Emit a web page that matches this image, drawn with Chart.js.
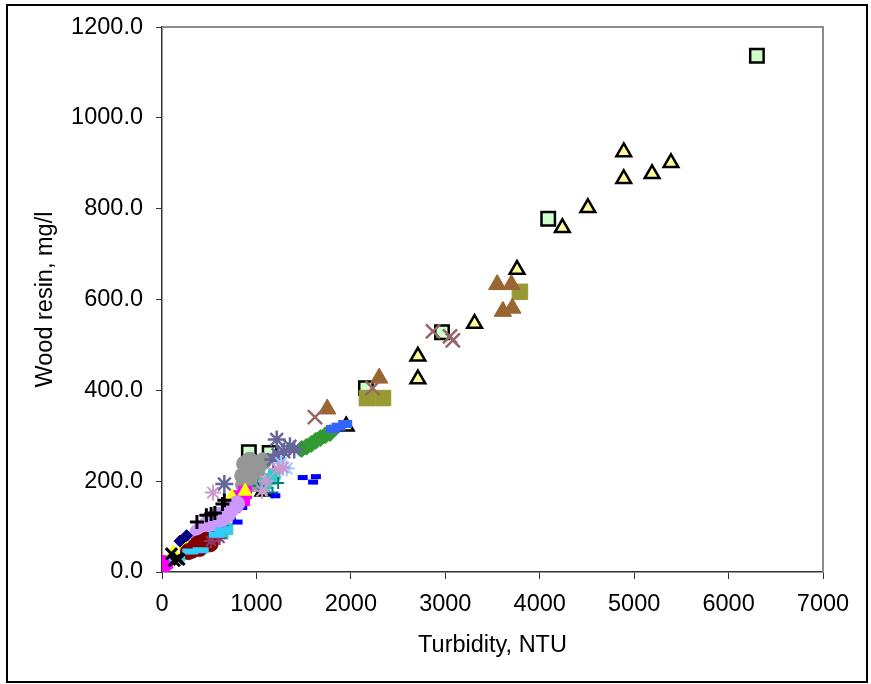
<!DOCTYPE html>
<html>
<head>
<meta charset="utf-8">
<script src="https://cdn.jsdelivr.net/npm/chart.js@4"></script>
<style>
  html, body { margin: 0; padding: 0; background: #fff; }
  canvas { display: block; }
</style>
</head>
<body>
<canvas id="chart" width="871" height="684"></canvas>
<script>
// axis ticks
const xTicks = [0, 1000, 2000, 3000, 4000, 5000, 6000, 7000];
const yTicks = [0, 200, 400, 600, 800, 1000, 1200];

// series values, [turbidity NTU, wood resin mg/l]
const paleGreenSquares = [[6300,1137],[4090,778],[2965,528],[2160,405],[920,264],[1140,262],[330,70]];
const paleYellowTriangles = [[4890,925],[5390,901],[5190,877],[4890,866],[4510,802],[4240,758],[3760,666],[3310,547],[2710,475],[2710,425],[1950,321],[1070,178],[830,160]];
const oliveSquares = [[3790,617],[2170,383],[2340,383]];
const brownTriangles = [[3550,633],[3700,633],[3610,574],[3710,581],[2300,427],[1750,359]];
const roseCrosses = [[2870,530],[3050,519],[3080,510],[2230,405],[1620,341]];
const greenDiamonds = [[1480,271],[1530,276],[1580,282],[1630,289],[1680,295],[1730,301],[1780,306]];
const blueBars = [[1810,315],[1870,320],[1940,326]];
const greyCircles = [[880,238],[920,228],[860,212],[900,205],[870,192],[950,195],[1070,244],[1000,222],[930,245]];
const slateStars = [[1215,292],[1355,277],[1230,258],[1290,265],[1400,270],[660,194],[1180,248]];
const lightBlueStars = [[1320,228],[1260,240],[1180,210],[1100,185]];
const turquoiseSquares = [[1150,205],[1190,215],[1100,195],[690,95],[640,85],[560,78]];
const tealPlus = [[1230,196],[1170,175],[640,103],[590,90],[1020,190]];
const lilacStars = [[1228,227],[1060,179],[1280,230],[1100,200],[320,69],[540,175],[420,98]];
const blueDashes = [[1490,208],[1630,210],[1600,198],[1200,168],[800,110],[850,142],[730,120]];
const magentaSquares = [[10,12],[30,20],[45,22],[820,165],[860,160],[780,150],[760,145],[880,175],[700,140]];
const yellowTriangles = [[740,165],[880,178],[120,42],[250,60]];
const lilacCircles = [[740,140],[790,150],[640,118],[560,108],[460,102],[380,88],[420,95],[700,128],[500,112],[600,125]];
const blackPlus = [[370,110],[470,125],[520,128],[560,130],[640,150],[660,158]];
const darkRedCircles = [[320,48],[380,62],[430,65],[470,70],[350,55],[280,45],[510,62],[400,52]];
const purpleStars = [[610,75],[520,68]];
const cyanDashes = [[160,30],[300,45],[410,48],[580,82],[650,92]];
const navyDiamonds = [[190,68],[260,80]];
const blackCrosses = [[100,40],[130,25],[160,30],[180,28]];

// Excel order: first listed is drawn at the bottom
const series = [
  { data: paleGreenSquares, pointStyle: 'rect', radius: 9.5, bg: '#CCFFCC', border: '#000', bw: 2.5 },
  { data: paleYellowTriangles, pointStyle: 'triangle', radius: 8.5, bg: '#FFFF99', border: '#000', bw: 2.5 },
  { data: oliveSquares, pointStyle: 'rect', radius: 11, bg: '#999933', border: '#999933', bw: 1 },
  { data: brownTriangles, pointStyle: 'triangle', radius: 10, bg: '#996633', border: '#996633', bw: 1 },
  { data: roseCrosses, pointStyle: 'crossRot', radius: 10, bg: '#996666', border: '#996666', bw: 2.5 },
  { data: greenDiamonds, pointStyle: 'rectRot', radius: 8.5, bg: '#339933', border: '#339933', bw: 1 },
  { data: blueBars, pointStyle: 'line', radius: 7, bg: '#3366FF', border: '#3366FF', bw: 8 },
  { data: greyCircles, pointStyle: 'circle', radius: 8.5, bg: '#969696', border: '#969696', bw: 1 },
  { data: slateStars, pointStyle: 'star', radius: 9, bg: '#666699', border: '#666699', bw: 2.5 },
  { data: lightBlueStars, pointStyle: 'star', radius: 8, bg: '#99CCFF', border: '#99CCFF', bw: 2 },
  { data: turquoiseSquares, pointStyle: 'rect', radius: 8, bg: '#33CCCC', border: '#33CCCC', bw: 1 },
  { data: tealPlus, pointStyle: 'cross', radius: 6, bg: '#008080', border: '#008080', bw: 2 },
  { data: lilacStars, pointStyle: 'star', radius: 8, bg: '#CC99CC', border: '#CC99CC', bw: 2 },
  { data: blueDashes, pointStyle: 'line', radius: 5, bg: '#0000FF', border: '#0000FF', bw: 5 },
  { data: magentaSquares, pointStyle: 'rect', radius: 9, bg: '#FF00FF', border: '#FF00FF', bw: 1 },
  { data: yellowTriangles, pointStyle: 'triangle', radius: 8, bg: '#FFFF00', border: '#FFFF00', bw: 1 },
  { data: lilacCircles, pointStyle: 'circle', radius: 8, bg: '#CC99FF', border: '#CC99FF', bw: 1 },
  { data: blackPlus, pointStyle: 'cross', radius: 7, bg: '#000', border: '#000', bw: 3 },
  { data: darkRedCircles, pointStyle: 'circle', radius: 8, bg: '#800000', border: '#800000', bw: 1 },
  { data: purpleStars, pointStyle: 'star', radius: 7, bg: '#993366', border: '#993366', bw: 2 },
  { data: cyanDashes, pointStyle: 'line', radius: 8, bg: '#33CCFF', border: '#33CCFF', bw: 6 },
  { data: navyDiamonds, pointStyle: 'rectRot', radius: 6, bg: '#000080', border: '#000080', bw: 1 },
  { data: blackCrosses, pointStyle: 'crossRot', radius: 8, bg: '#000', border: '#000', bw: 3 }
];

const datasets = series.map((s, i) => ({
  data: s.data.map(p => ({ x: p[0], y: p[1] })),
  pointStyle: s.pointStyle,
  pointRadius: s.radius,
  backgroundColor: s.bg,
  borderColor: s.border,
  pointBorderWidth: s.bw,
  order: series.length - i,
  showLine: false
}));

const FONT = { family: "'Liberation Sans', Arial, sans-serif", size: 23.5 };

const frame = {
  id: 'frame',
  beforeDatasetsDraw(chart) {
    const { ctx, chartArea: a } = chart;
    ctx.save();
    ctx.strokeStyle = '#8c8c8c';
    ctx.lineWidth = 2;
    ctx.beginPath();
    ctx.moveTo(a.left, a.top);
    ctx.lineTo(a.right, a.top);
    ctx.lineTo(a.right, a.bottom);
    ctx.stroke();
    ctx.restore();
  },
  afterDraw(chart) {
    const ctx = chart.ctx;
    ctx.save();
    ctx.strokeStyle = '#000';
    ctx.lineWidth = 2;
    ctx.strokeRect(7, 5, 860, 677);
    ctx.restore();
  }
};

new Chart(document.getElementById('chart'), {
  type: 'scatter',
  data: { datasets },
  plugins: [frame],
  options: {
    responsive: false,
    animation: false,
    devicePixelRatio: 1,
    layout: { padding: { left: 0, top: 24, right: 48, bottom: 0 } },
    plugins: { legend: { display: false }, tooltip: { enabled: false } },
    scales: {
      x: {
        type: 'linear',
        min: xTicks[0],
        max: xTicks[xTicks.length - 1],
        afterFit: s => { s.height = 112; },
        afterBuildTicks: s => { s.ticks = xTicks.map(v => ({ value: v })); },
        ticks: { color: '#000', font: FONT, padding: 11, maxRotation: 0, callback: v => String(v) },
        grid: { drawOnChartArea: false, drawTicks: true, tickLength: 7, color: '#333', lineWidth: 1 },
        border: { display: true, color: '#333', width: 1.5 },
        title: { display: true, text: 'Turbidity, NTU', color: '#000', font: FONT, padding: { top: 0, bottom: 24 } }
      },
      y: {
        type: 'linear',
        min: yTicks[0],
        max: yTicks[yTicks.length - 1],
        afterFit: s => { s.width = 162; },
        afterBuildTicks: s => { s.ticks = yTicks.map(v => ({ value: v })); },
        ticks: { color: '#000', font: FONT, padding: 13, callback: v => v.toFixed(1) },
        grid: { drawOnChartArea: false, drawTicks: true, tickLength: 6, color: '#333', lineWidth: 1 },
        border: { display: true, color: '#333', width: 1.5 },
        title: { display: true, text: 'Wood resin, mg/l', color: '#000', font: FONT, padding: { top: 31, bottom: 0 } }
      }
    }
  }
});
</script>
</body>
</html>
